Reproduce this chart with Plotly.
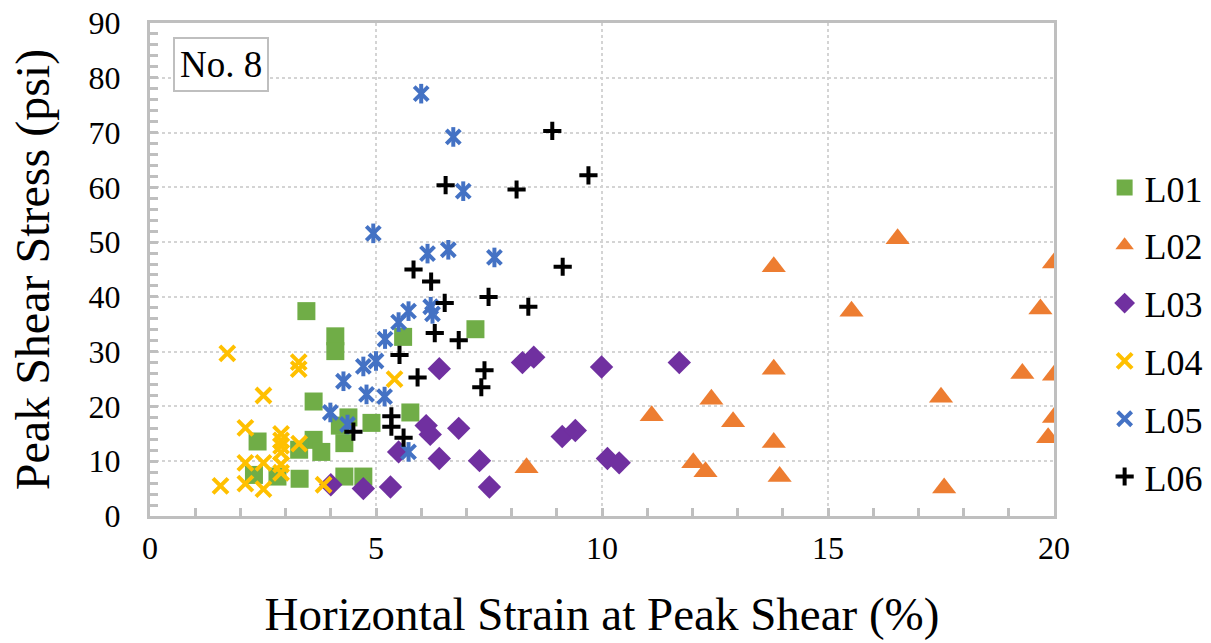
import plotly.graph_objects as go

# ---------------- data ----------------
l01_x = [3.46, 4.1, 4.1, 5.6, 7.2, 3.62, 4.39, 4.2, 4.3, 4.9, 5.76, 2.38, 3.62, 3.79, 3.3, 2.3, 2.82, 3.31, 4.3, 4.72]
l01_y = [37.4, 32.8, 30.1, 32.7, 34.1, 20.9, 18.0, 16.5, 13.3, 17.0, 18.9, 13.6, 13.9, 11.7, 12.1, 7.5, 7.2, 6.8, 7.2, 7.2]

l02_x = [8.33, 11.1, 12.02, 12.29, 12.42, 12.9, 13.8, 13.8, 13.8, 13.93, 15.52, 16.54, 17.5, 17.57, 19.3, 19.7, 19.87, 20.0, 20.0, 20.0]
l02_y = [8.8, 18.3, 9.7, 8.1, 21.3, 17.2, 45.5, 26.8, 13.4, 7.2, 37.4, 50.6, 21.7, 5.1, 26.0, 37.8, 14.3, 46.2, 25.7, 18.0]

l03_x = [8.24, 8.49, 9.99, 11.71, 9.12, 9.41, 10.12, 10.38, 6.4, 6.11, 6.2, 6.83, 5.5, 6.4, 7.29, 7.51, 5.32, 4.72, 4.0]
l03_y = [28.0, 29.0, 27.2, 28.0, 14.5, 15.6, 10.5, 9.7, 26.9, 16.5, 14.9, 16.0, 11.7, 10.5, 10.1, 5.3, 5.3, 5.0, 5.7]

l04_x = [1.71, 3.29, 3.29, 2.51, 2.11, 2.9, 2.9, 2.9, 2.9, 3.3, 2.11, 2.51, 2.9, 2.9, 1.56, 2.11, 2.51, 3.84, 5.41]
l04_y = [29.7, 28.1, 26.8, 22.0, 16.1, 15.0, 13.8, 12.8, 11.6, 13.2, 9.7, 9.7, 9.4, 7.9, 5.5, 5.9, 4.9, 5.7, 25.0]

l05_x = [6.0, 6.71, 6.93, 4.94, 6.14, 6.6, 7.62, 5.72, 6.21, 6.25, 5.5, 5.2, 5.0, 4.72, 4.28, 4.79, 5.19, 4.37, 5.72, 3.99]
l05_y = [77.1, 69.2, 59.3, 51.6, 47.9, 48.6, 47.2, 37.4, 38.2, 36.9, 35.4, 32.3, 28.3, 27.3, 24.6, 22.2, 21.8, 16.7, 11.7, 18.9]

l06_x = [6.54, 8.11, 8.9, 9.7, 5.83, 6.22, 6.52, 7.49, 8.37, 6.3, 6.83, 5.52, 5.92, 7.4, 7.33, 5.34, 5.34, 5.61, 4.5, 9.13]
l06_y = [60.4, 59.6, 70.3, 62.2, 45.0, 42.8, 38.9, 40.0, 38.2, 33.4, 32.1, 29.4, 25.3, 26.6, 23.5, 18.2, 16.3, 14.3, 15.4, 45.5]

x_ticks = [0, 5, 10, 15, 20]
y_ticks = [0, 10, 20, 30, 40, 50, 60, 70, 80, 90]

FONT = "Liberation Serif"
GRAY = "#bfbfbf"

fig = go.Figure()

fig.add_trace(go.Scatter(x=l01_x, y=l01_y, mode="markers", name="L01", legendgroup="L01",
                         marker=dict(symbol="square", size=18, color="#70AD47", line=dict(width=0))))
fig.add_trace(go.Scatter(x=l02_x, y=l02_y, mode="markers", name="L02", legendgroup="L02",
                         marker=dict(symbol="triangle-up", size=21, color="#ED7D31", line=dict(width=0))))
fig.add_trace(go.Scatter(x=l03_x, y=l03_y, mode="markers", name="L03", legendgroup="L03",
                         marker=dict(symbol="diamond", size=18, color="#7030A0", line=dict(width=0))))
fig.add_trace(go.Scatter(x=l04_x, y=l04_y, mode="markers", name="L04", legendgroup="L04",
                         marker=dict(symbol="x-thin-open", size=15, color="#FFC000",
                                     line=dict(width=4, color="#FFC000"))))
fig.add_trace(go.Scatter(x=l05_x, y=l05_y, mode="markers", name="L05", legendgroup="L05",
                         marker=dict(symbol="x-thin-open", size=14, color="#4472C4",
                                     line=dict(width=4, color="#4472C4"))))
fig.add_trace(go.Scatter(x=l05_x, y=l05_y, mode="markers", name="L05", legendgroup="L05", showlegend=False,
                         marker=dict(symbol="line-ns-open", size=14, color="#4472C4",
                                     line=dict(width=4, color="#4472C4"))))
fig.add_trace(go.Scatter(x=l06_x, y=l06_y, mode="markers", name="L06", legendgroup="L06",
                         marker=dict(symbol="cross-thin-open", size=13, color="#000000",
                                     line=dict(width=4, color="#000000"))))

axis_common = dict(
    showline=True, linecolor=GRAY, linewidth=3, mirror=True,
    showgrid=True, gridcolor="#d4d4d4", gridwidth=2, griddash="dot",
    zeroline=False, ticks="inside", ticklen=8, tickwidth=3, tickcolor=GRAY,
    tickfont=dict(family=FONT, size=32, color="black"),
)

fig.update_xaxes(
    **axis_common, range=[0, 20], tickvals=x_ticks, ticktext=[str(v) for v in x_ticks],
    minor=dict(dtick=1, ticks="inside", ticklen=8, tickwidth=3, tickcolor=GRAY, showgrid=False),
    title=dict(text="Horizontal Strain at Peak Shear (%)", font=dict(family=FONT, size=47, color="black"),
               standoff=32),
    ticklabelstandoff=2,
)
fig.update_yaxes(
    **axis_common, range=[0, 90], tickvals=y_ticks, ticktext=[str(v) for v in y_ticks],
    minor=dict(dtick=2, ticks="inside", ticklen=8, tickwidth=3, tickcolor=GRAY, showgrid=False),
    title=dict(text="Peak Shear Stress (psi)", font=dict(family=FONT, size=48, color="black"),
               standoff=24),
    ticklabelstandoff=20,
)

fig.add_annotation(
    text="No. 8", xref="paper", yref="paper", x=0.025, y=0.972, xanchor="left", yanchor="top",
    showarrow=False, font=dict(family=FONT, size=37, color="black"),
    bordercolor=GRAY, borderwidth=2, borderpad=5, bgcolor="white",
)

fig.update_layout(
    width=1211, height=643,
    margin=dict(l=150, r=157, t=23, b=127, autoexpand=False),
    paper_bgcolor="white", plot_bgcolor="white",
    font=dict(family=FONT, size=32, color="black"),
    legend=dict(x=1.056, y=0.373, xanchor="left", yanchor="middle", traceorder="grouped",
                tracegroupgap=8, font=dict(family=FONT, size=36, color="black"),
                itemwidth=30, bgcolor="rgba(0,0,0,0)"),
    showlegend=True,
)

fig.write_html("out.html")
